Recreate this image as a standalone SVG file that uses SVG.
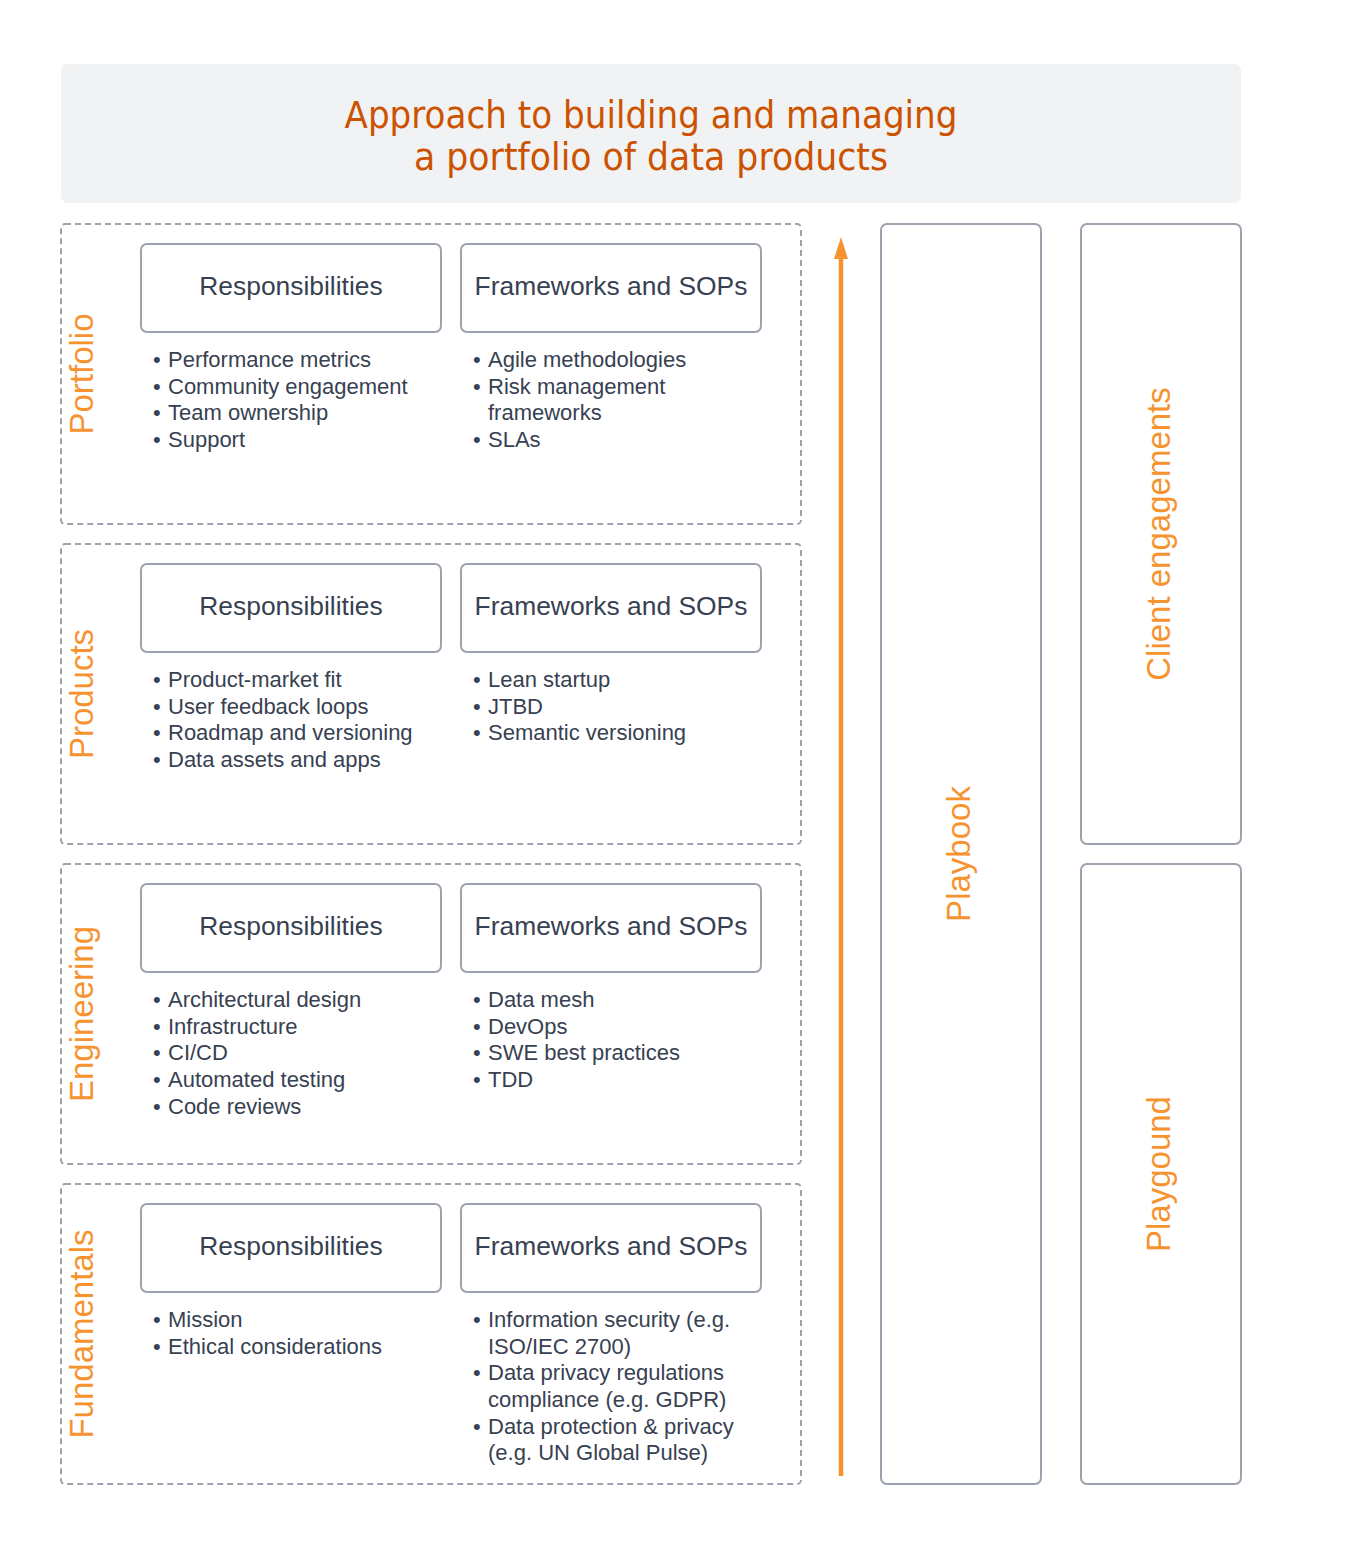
<svg xmlns="http://www.w3.org/2000/svg" width="1350" height="1545" viewBox="0 0 1350 1545">
<style>
.sec{fill:#ffffff;stroke:#9ca3af;stroke-width:2;stroke-dasharray:6 4}
.box{fill:#ffffff;stroke:#9ca3af;stroke-width:2}
.bt{font-family:"Liberation Sans",Arial,sans-serif;font-size:26.4px;fill:#374151;text-anchor:middle}
.li{font-family:"Liberation Sans",Arial,sans-serif;font-size:22px;fill:#374151}
.lab{font-family:"Liberation Sans",Arial,sans-serif;font-size:33px;fill:#f7932f;text-anchor:middle}
.title{font-family:"DejaVu Sans","Liberation Sans",sans-serif;font-size:37px;fill:#cc5200;text-anchor:middle}
</style>
<defs>
<marker id="ah" viewBox="0 0 22 14" refX="0" refY="7" markerWidth="22" markerHeight="14" markerUnits="userSpaceOnUse" orient="auto">
<path d="M0,0 L22,7 L0,14 Z" fill="#f7932f"/>
</marker>
</defs>
<rect width="1350" height="1545" fill="#ffffff"/>
<g id="title">
<rect x="61" y="64" width="1180" height="139" rx="7" fill="#f1f2f4"/>
<text class="title" x="651" y="128" textLength="613" lengthAdjust="spacingAndGlyphs">Approach to building and managing</text>
<text class="title" x="651" y="170" textLength="474" lengthAdjust="spacingAndGlyphs">a portfolio of data products</text>
</g>
<g id="portfolio">
<rect class="sec" x="61" y="224" width="740" height="300" rx="4"/>
<text class="lab" transform="translate(93,374) rotate(-90)">Portfolio</text>
<rect class="box" x="141" y="244" width="300" height="88" rx="6"/>
<text class="bt" x="291" y="295">Responsibilities</text>
<rect class="box" x="461" y="244" width="300" height="88" rx="6"/>
<text class="bt" x="611" y="295">Frameworks and SOPs</text>
<text class="li"><tspan x="153" y="367">•</tspan><tspan x="168" y="367">Performance metrics</tspan><tspan x="153" y="393.7">•</tspan><tspan x="168" y="393.7">Community engagement</tspan><tspan x="153" y="420.3">•</tspan><tspan x="168" y="420.3">Team ownership</tspan><tspan x="153" y="447">•</tspan><tspan x="168" y="447">Support</tspan></text>
<text class="li"><tspan x="473" y="367">•</tspan><tspan x="488" y="367">Agile methodologies</tspan><tspan x="473" y="393.7">•</tspan><tspan x="488" y="393.7">Risk management</tspan><tspan x="488" y="420.3">frameworks</tspan><tspan x="473" y="447">•</tspan><tspan x="488" y="447">SLAs</tspan></text>
</g>
<g id="products">
<rect class="sec" x="61" y="544" width="740" height="300" rx="4"/>
<text class="lab" transform="translate(93,694) rotate(-90)">Products</text>
<rect class="box" x="141" y="564" width="300" height="88" rx="6"/>
<text class="bt" x="291" y="615">Responsibilities</text>
<rect class="box" x="461" y="564" width="300" height="88" rx="6"/>
<text class="bt" x="611" y="615">Frameworks and SOPs</text>
<text class="li"><tspan x="153" y="687">•</tspan><tspan x="168" y="687">Product-market fit</tspan><tspan x="153" y="713.7">•</tspan><tspan x="168" y="713.7">User feedback loops</tspan><tspan x="153" y="740.3">•</tspan><tspan x="168" y="740.3">Roadmap and versioning</tspan><tspan x="153" y="767">•</tspan><tspan x="168" y="767">Data assets and apps</tspan></text>
<text class="li"><tspan x="473" y="687">•</tspan><tspan x="488" y="687">Lean startup</tspan><tspan x="473" y="713.7">•</tspan><tspan x="488" y="713.7">JTBD</tspan><tspan x="473" y="740.3">•</tspan><tspan x="488" y="740.3">Semantic versioning</tspan></text>
</g>
<g id="engineering">
<rect class="sec" x="61" y="864" width="740" height="300" rx="4"/>
<text class="lab" transform="translate(93,1014) rotate(-90)">Engineering</text>
<rect class="box" x="141" y="884" width="300" height="88" rx="6"/>
<text class="bt" x="291" y="935">Responsibilities</text>
<rect class="box" x="461" y="884" width="300" height="88" rx="6"/>
<text class="bt" x="611" y="935">Frameworks and SOPs</text>
<text class="li"><tspan x="153" y="1007">•</tspan><tspan x="168" y="1007">Architectural design</tspan><tspan x="153" y="1033.7">•</tspan><tspan x="168" y="1033.7">Infrastructure</tspan><tspan x="153" y="1060.3">•</tspan><tspan x="168" y="1060.3">CI/CD</tspan><tspan x="153" y="1087">•</tspan><tspan x="168" y="1087">Automated testing</tspan><tspan x="153" y="1113.7">•</tspan><tspan x="168" y="1113.7">Code reviews</tspan></text>
<text class="li"><tspan x="473" y="1007">•</tspan><tspan x="488" y="1007">Data mesh</tspan><tspan x="473" y="1033.7">•</tspan><tspan x="488" y="1033.7">DevOps</tspan><tspan x="473" y="1060.3">•</tspan><tspan x="488" y="1060.3">SWE best practices</tspan><tspan x="473" y="1087">•</tspan><tspan x="488" y="1087">TDD</tspan></text>
</g>
<g id="fundamentals">
<rect class="sec" x="61" y="1184" width="740" height="300" rx="4"/>
<text class="lab" transform="translate(93,1334) rotate(-90)">Fundamentals</text>
<rect class="box" x="141" y="1204" width="300" height="88" rx="6"/>
<text class="bt" x="291" y="1255">Responsibilities</text>
<rect class="box" x="461" y="1204" width="300" height="88" rx="6"/>
<text class="bt" x="611" y="1255">Frameworks and SOPs</text>
<text class="li"><tspan x="153" y="1327">•</tspan><tspan x="168" y="1327">Mission</tspan><tspan x="153" y="1353.7">•</tspan><tspan x="168" y="1353.7">Ethical considerations</tspan></text>
<text class="li"><tspan x="473" y="1327">•</tspan><tspan x="488" y="1327">Information security (e.g.</tspan><tspan x="488" y="1353.7">ISO/IEC 2700)</tspan><tspan x="473" y="1380.3">•</tspan><tspan x="488" y="1380.3">Data privacy regulations</tspan><tspan x="488" y="1407">compliance (e.g. GDPR)</tspan><tspan x="473" y="1433.7">•</tspan><tspan x="488" y="1433.7">Data protection &amp; privacy</tspan><tspan x="488" y="1460.3">(e.g. UN Global Pulse)</tspan></text>
</g>
<g id="playbook">
<rect class="box" x="881" y="224" width="160" height="1260" rx="6"/>
<text class="lab" transform="translate(970,854) rotate(-90)">Playbook</text>
</g>
<g id="client-engagements">
<rect class="box" x="1081" y="224" width="160" height="620" rx="6"/>
<text class="lab" transform="translate(1170,534) rotate(-90)">Client engagements</text>
</g>
<g id="playground">
<rect class="box" x="1081" y="864" width="160" height="620" rx="6"/>
<text class="lab" transform="translate(1170,1174) rotate(-90)">Playgound</text>
</g>
<g id="connectors">
<line x1="841" y1="1476" x2="841" y2="259" stroke="#f7932f" stroke-width="4.5" marker-end="url(#ah)"/>
</g>
</svg>
